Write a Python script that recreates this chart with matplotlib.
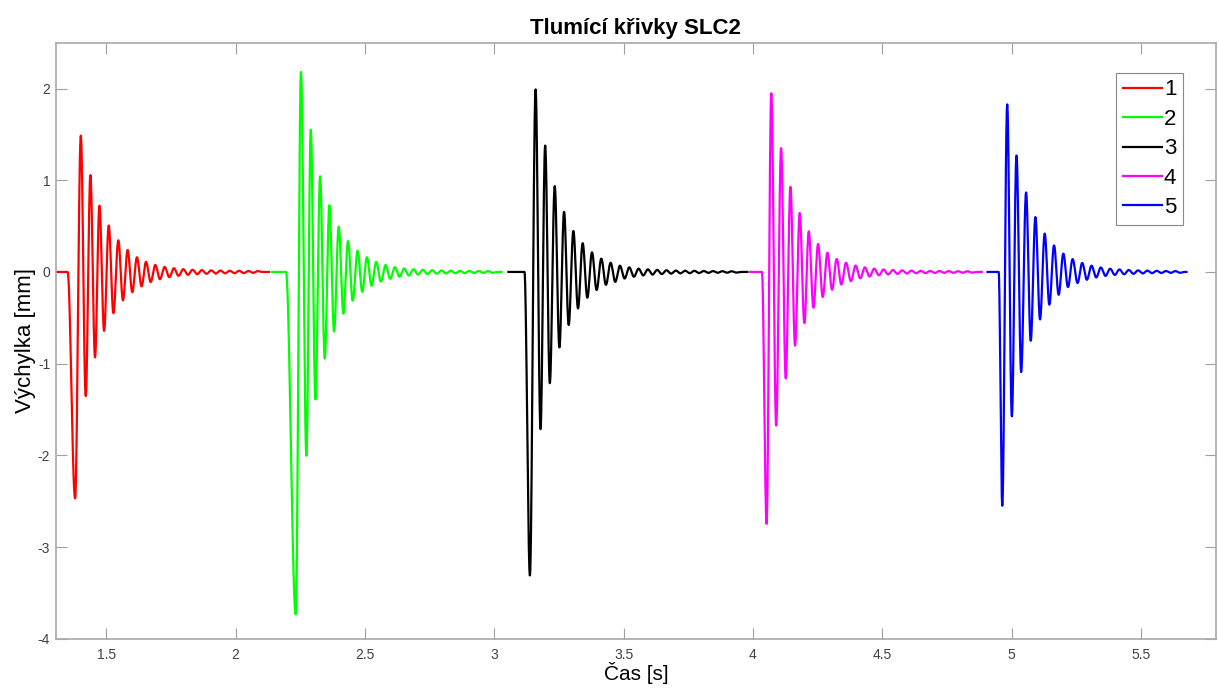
import numpy as np
import matplotlib
matplotlib.use('Agg')
import matplotlib.pyplot as plt

plt.rcParams['font.family'] = ['Liberation Sans', 'DejaVu Sans']
plt.rcParams['axes.unicode_minus'] = False

# each series: start time, time where the drop begins, extrema (time, value), end time
labels = ['1', '2', '3', '4', '5']
colors = ['#ff0000', '#00ff00', '#000000', '#ff00ff', '#0000ff']

start_t = [1.305, 2.140, 3.055, 3.990, 4.907]
drop_t = [1.351, 2.195, 3.117, 4.035, 4.950]
end_t = [2.129, 3.028, 3.979, 4.885, 5.676]

peak_t_1 = [1.380, 1.402, 1.421, 1.439, 1.457, 1.474, 1.492, 1.510, 1.528, 1.547,
            1.565, 1.583, 1.601, 1.619, 1.637, 1.654, 1.672, 1.690, 1.708, 1.726,
            1.744, 1.762, 1.780, 1.798, 1.816, 1.834, 1.852, 1.870, 1.888, 1.906,
            1.924, 1.942, 1.960, 1.978, 1.996, 2.014, 2.032, 2.050, 2.068, 2.086]
peak_y_1 = [-2.47, 1.486, -1.353, 1.056, -0.932, 0.723, -0.643, 0.506, -0.45, 0.345,
            -0.31, 0.24, -0.22, 0.16, -0.157, 0.11, -0.11, 0.076, -0.08, 0.055,
            -0.057, 0.04, -0.042, 0.03, -0.031, 0.024, -0.025, 0.02, -0.02, 0.017,
            -0.017, 0.015, -0.015, 0.013, -0.013, 0.012, -0.012, 0.01, -0.01, 0.009]

peak_t_2 = [2.233, 2.253, 2.274, 2.291, 2.309, 2.327, 2.345, 2.363, 2.381, 2.399,
            2.417, 2.435, 2.453, 2.472, 2.490, 2.508, 2.526, 2.544, 2.562, 2.580,
            2.598, 2.616, 2.634, 2.652, 2.670, 2.688, 2.706, 2.724, 2.742, 2.760,
            2.778, 2.796, 2.814, 2.832, 2.850, 2.868, 2.886, 2.904, 2.922, 2.940,
            2.958, 2.976, 2.994]
peak_y_2 = [-3.735, 2.18, -2.004, 1.55, -1.39, 1.044, -0.944, 0.727, -0.65, 0.494,
            -0.454, 0.337, -0.313, 0.233, -0.217, 0.16, -0.15, 0.11, -0.105, 0.075,
            -0.075, 0.052, -0.052, 0.038, -0.038, 0.029, -0.029, 0.023, -0.023, 0.019,
            -0.019, 0.016, -0.016, 0.014, -0.014, 0.012, -0.012, 0.011, -0.011, 0.01,
            -0.01, 0.009, -0.009]

peak_t_3 = [3.138, 3.160, 3.179, 3.197, 3.215, 3.234, 3.252, 3.270, 3.288, 3.306,
            3.324, 3.342, 3.360, 3.378, 3.396, 3.414, 3.432, 3.450, 3.468, 3.486,
            3.504, 3.522, 3.540, 3.558, 3.576, 3.594, 3.612, 3.630, 3.648, 3.666,
            3.684, 3.702, 3.720, 3.738, 3.756, 3.774, 3.792, 3.810, 3.828, 3.846,
            3.864, 3.882, 3.900, 3.918, 3.936]
peak_y_3 = [-3.31, 1.99, -1.715, 1.378, -1.213, 0.936, -0.823, 0.655, -0.578, 0.446,
            -0.398, 0.313, -0.281, 0.213, -0.197, 0.145, -0.14, 0.10, -0.108, 0.068,
            -0.072, 0.05, -0.052, 0.036, -0.038, 0.028, -0.029, 0.022, -0.023, 0.018,
            -0.018, 0.015, -0.015, 0.013, -0.013, 0.012, -0.012, 0.01, -0.01, 0.009,
            -0.009, 0.008, -0.008, 0.007, -0.007]

peak_t_4 = [4.053, 4.071, 4.090, 4.109, 4.127, 4.145, 4.163, 4.181, 4.199, 4.216,
            4.234, 4.252, 4.270, 4.288, 4.306, 4.324, 4.342, 4.360, 4.379, 4.397,
            4.415, 4.433, 4.451, 4.469, 4.487, 4.505, 4.523, 4.541, 4.559, 4.577,
            4.595, 4.613, 4.631, 4.649, 4.667, 4.685, 4.703, 4.721, 4.739, 4.757,
            4.775, 4.793, 4.811, 4.829, 4.847]
peak_y_4 = [-2.747, 1.948, -1.675, 1.349, -1.161, 0.928, -0.803, 0.643, -0.558, 0.442,
            -0.39, 0.305, -0.273, 0.209, -0.193, 0.141, -0.137, 0.10, -0.10, 0.07,
            -0.07, 0.05, -0.05, 0.036, -0.036, 0.027, -0.027, 0.021, -0.021, 0.017,
            -0.017, 0.014, -0.014, 0.012, -0.012, 0.011, -0.011, 0.01, -0.01, 0.009,
            -0.009, 0.008, -0.008, 0.007, -0.007]

peak_t_5 = [4.964, 4.983, 5.001, 5.019, 5.037, 5.056, 5.074, 5.092, 5.110, 5.128,
            5.146, 5.164, 5.182, 5.200, 5.218, 5.236, 5.255, 5.273, 5.291, 5.309,
            5.327, 5.345, 5.363, 5.381, 5.399, 5.417, 5.435, 5.453, 5.471, 5.489,
            5.507, 5.525, 5.543, 5.561, 5.579, 5.597, 5.615, 5.633, 5.651]
peak_y_5 = [-2.55, 1.827, -1.574, 1.269, -1.092, 0.867, -0.751, 0.598, -0.518, 0.418,
            -0.357, 0.289, -0.249, 0.2, -0.165, 0.14, -0.12, 0.098, -0.085, 0.068,
            -0.06, 0.048, -0.043, 0.035, -0.032, 0.027, -0.025, 0.021, -0.02, 0.017,
            -0.016, 0.014, -0.013, 0.012, -0.011, 0.01, -0.01, 0.009, -0.009]

peak_t = [peak_t_1, peak_t_2, peak_t_3, peak_t_4, peak_t_5]
peak_y = [peak_y_1, peak_y_2, peak_y_3, peak_y_4, peak_y_5]


def curve(t0, td, pt, py, te):
    # knots: flat start, extrema, back to zero at the end
    kt = [t0, td] + list(pt) + [pt[-1] + 0.018, te]
    ky = [0.0, 0.0] + list(py) + [0.0, 0.0]
    xs, ys = [], []
    for i in range(len(kt) - 1):
        s = np.linspace(0, 1, 30, endpoint=False)
        w = (1 - np.cos(np.pi * s)) / 2
        xs.append(kt[i] + (kt[i + 1] - kt[i]) * s)
        ys.append(ky[i] + (ky[i + 1] - ky[i]) * w)
    xs.append([kt[-1]])
    ys.append([ky[-1]])
    return np.concatenate(xs), np.concatenate(ys)


fig = plt.figure(figsize=(12.19, 6.89), dpi=100)
ax = fig.add_axes([0.0457, 0.073, 0.9518, 0.865])

for i in range(5):
    x, y = curve(start_t[i], drop_t[i], peak_t[i], peak_y[i], end_t[i])
    ax.plot(x, y, color=colors[i], lw=1.6, label=labels[i])

ax.set_xlim(1.305, 5.79)
ax.set_ylim(-4, 2.5)
ax.set_xticks([1.5, 2, 2.5, 3, 3.5, 4, 4.5, 5, 5.5])
ax.set_xticklabels(['1.5', '2', '2.5', '3', '3.5', '4', '4.5', '5', '5.5'])
ax.set_yticks([-4, -3, -2, -1, 0, 1, 2])
ax.set_yticklabels(['-4', '-3', '-2', '-1', '0', '1', '2'])
ax.tick_params(direction='in', top=True, right=True, length=8, width=0.8,
               color='#a0a0a0', labelcolor='#404040', labelsize=10)
ax.tick_params(axis='x', pad=7)
ax.tick_params(axis='y', pad=4)
for sp in ax.spines.values():
    sp.set_color('#a8a8a8')
    sp.set_linewidth(1.2)

ax.set_title('Tlumící křivky SLC2', fontsize=16, fontweight='bold', pad=6)
ax.set_xlabel('Čas [s]', fontsize=15, labelpad=0)
ax.set_ylabel('Výchylka [mm]', fontsize=16, labelpad=1)

leg = ax.legend(loc='upper right', bbox_to_anchor=(0.9716, 0.9496), borderaxespad=0,
                fontsize=16, handlelength=1.75, handletextpad=0.1, labelspacing=0.38,
                borderpad=0.3, fancybox=False, framealpha=1)
leg.get_frame().set_edgecolor('#888888')
leg.get_frame().set_linewidth(0.8)

fig.savefig('out.png', dpi=100)
